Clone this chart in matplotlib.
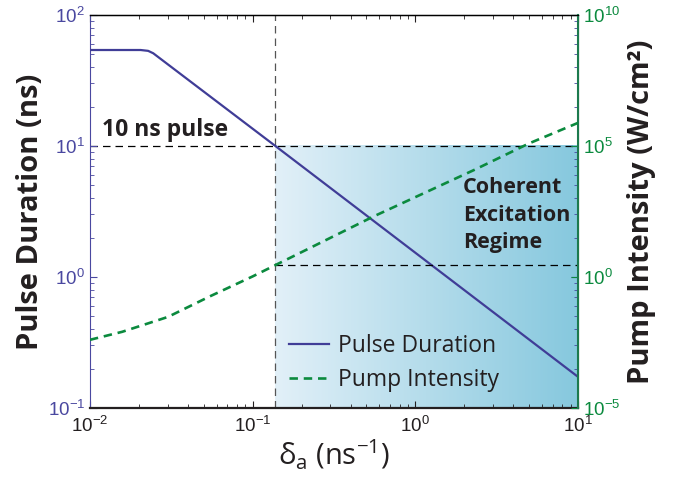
import numpy as np
import matplotlib
matplotlib.use("Agg")
import matplotlib.pyplot as plt
from matplotlib.lines import Line2D

# ---------------------------------------------------------------------------
# Data
# ---------------------------------------------------------------------------
delta_pulse = [0.01, 0.0205, 0.0228, 0.0245, 0.138, 10.0]   # ns^-1
pulse_duration = [54.0, 54.0, 53.2, 51.0, 10.0, 0.173]     # ns

delta_pump = [0.01, 0.0158, 0.0302, 0.055, 0.1, 0.145, 0.55, 2.29, 5.0, 10.0]
pump_intensity = [4.0e-3, 8.1e-3, 3.0e-2, 0.186, 1.05, 3.3, 200.0, 1.2e4, 1.25e5, 7.6e5]  # W/cm^2

pulse_cut = 10.0      # 10 ns pulse
delta_cut = 0.138     # where the pulse reaches 10 ns
pump_cut = 2.9        # pump intensity at delta_cut

PURPLE = "#403d97"
GREEN = "#0b8a3e"
SPINE_GREEN = "#1c7a4e"
TICK_PURPLE = "#4a48a0"
INK = "#231f20"

plt.rcParams["font.family"] = ["Liberation Sans", "DejaVu Sans"]
plt.rcParams["mathtext.fontset"] = "custom"
plt.rcParams["mathtext.rm"] = "Liberation Sans"
plt.rcParams["mathtext.it"] = "Liberation Sans:italic"

OPEN = ["Open Sans", "DejaVu Sans"]
BOLD = dict(family=OPEN, fontweight="bold")

fig = plt.figure(figsize=(6.76, 4.82), dpi=100)
ax = fig.add_axes([0.133, 0.1535, 0.722, 0.8155])
ax2 = ax.twinx()

ax.set_xscale("log")
ax.set_yscale("log")
ax.set_xlim(1e-2, 1e1)
ax.set_ylim(1e-1, 1e2)
ax2.set_yscale("log")
ax2.set_ylim(1e-5, 1e10)

# --- shaded "coherent excitation" region (horizontal gradient) -------------
to_axes = ax.transAxes.inverted()
x0, y0 = to_axes.transform(ax.transData.transform((delta_cut, 1e-1)))
x1, y1 = to_axes.transform(ax.transData.transform((1e1, pulse_cut)))
c_left = np.array(matplotlib.colors.to_rgb("#e2f0f8"))
c_right = np.array(matplotlib.colors.to_rgb("#86c8de"))
t = np.linspace(0, 1, 256)[None, :, None]
grad = c_left + (c_right - c_left) * t
ax.imshow(grad, extent=(x0, x1, y0, y1), transform=ax.transAxes,
          aspect="auto", zorder=0, interpolation="bilinear")
ax.set_xlim(1e-2, 1e1)
ax.set_ylim(1e-1, 1e2)

# --- guide lines -----------------------------------------------------------
ax.axvline(delta_cut, color="#555555", lw=0.9, dashes=(6, 4), zorder=1)
ax.axhline(pulse_cut, color="black", lw=0.9, dashes=(6, 4), zorder=1)
ax2.plot([delta_cut, 1e1], [pump_cut, pump_cut], color="black", lw=0.9,
         dashes=(6, 4), zorder=1)

# --- curves ----------------------------------------------------------------
ax.plot(delta_pulse, pulse_duration, color=PURPLE, lw=1.6, zorder=3)
ax2.plot(delta_pump, pump_intensity, color=GREEN, lw=1.9, ls="--",
         dashes=(3.2, 2.2), zorder=3)

# --- annotations -----------------------------------------------------------
ax.text(0.0118, 10.8, "10 ns pulse", fontsize=16.5, va="bottom", ha="left",
        color=INK, **BOLD)
ax.text(1.97, 5.8, "Coherent\nExcitation\nRegime", fontsize=15.5, va="top",
        ha="left", linespacing=1.42, color=INK, **BOLD)

handles = [Line2D([], [], color=PURPLE, lw=1.6),
           Line2D([], [], color=GREEN, lw=1.9, dashes=(3.2, 2.2))]
leg = ax2.legend(handles, ["Pulse Duration", "Pump Intensity"],
                 loc="lower left", bbox_to_anchor=(0.365, -0.012), frameon=False,
                 handlelength=1.75, handletextpad=0.4, labelspacing=0.45,
                 prop=dict(family=OPEN, size=16.5))
for txt in leg.get_texts():
    txt.set_color(INK)

# --- axes styling ----------------------------------------------------------
ax.set_xlabel("δ$_{\\mathregular{a}}$ (ns$^{\\mathregular{-1}}$)",
              fontsize=21, family=OPEN, labelpad=1, color=INK)
ax.set_ylabel("Pulse Duration (ns)", fontsize=21, labelpad=2,
              color=INK, **BOLD)
ax2.set_ylabel("Pump Intensity (W/cm²)", fontsize=21, labelpad=5,
               color=INK, **BOLD)

ax.tick_params(axis="both", which="both", direction="in", top=True,
               labelsize=13.5)
ax.tick_params(axis="y", which="both", colors=TICK_PURPLE, right=True)
ax.tick_params(axis="x", which="both", colors=INK, pad=6)
ax.tick_params(which="major", length=5)
ax.tick_params(which="minor", length=3)
ax.yaxis.set_major_locator(matplotlib.ticker.LogLocator(numticks=10))

ax2.yaxis.set_major_locator(matplotlib.ticker.FixedLocator([1e-5, 1e0, 1e5, 1e10]))
ax2.yaxis.set_minor_locator(matplotlib.ticker.NullLocator())
ax2.tick_params(axis="y", which="both", direction="in", colors=GREEN,
                labelsize=13.5, length=5)

ax.spines["left"].set_color(TICK_PURPLE)
ax.spines["bottom"].set_color(INK)
ax.spines["bottom"].set_linewidth(1.6)
ax.spines["top"].set_linewidth(1.0)
ax2.spines["right"].set_color(SPINE_GREEN)
ax2.spines["right"].set_linewidth(1.5)
ax2.spines["left"].set_visible(False)
ax2.spines["bottom"].set_visible(False)

fig.savefig("out.png", dpi=100)
